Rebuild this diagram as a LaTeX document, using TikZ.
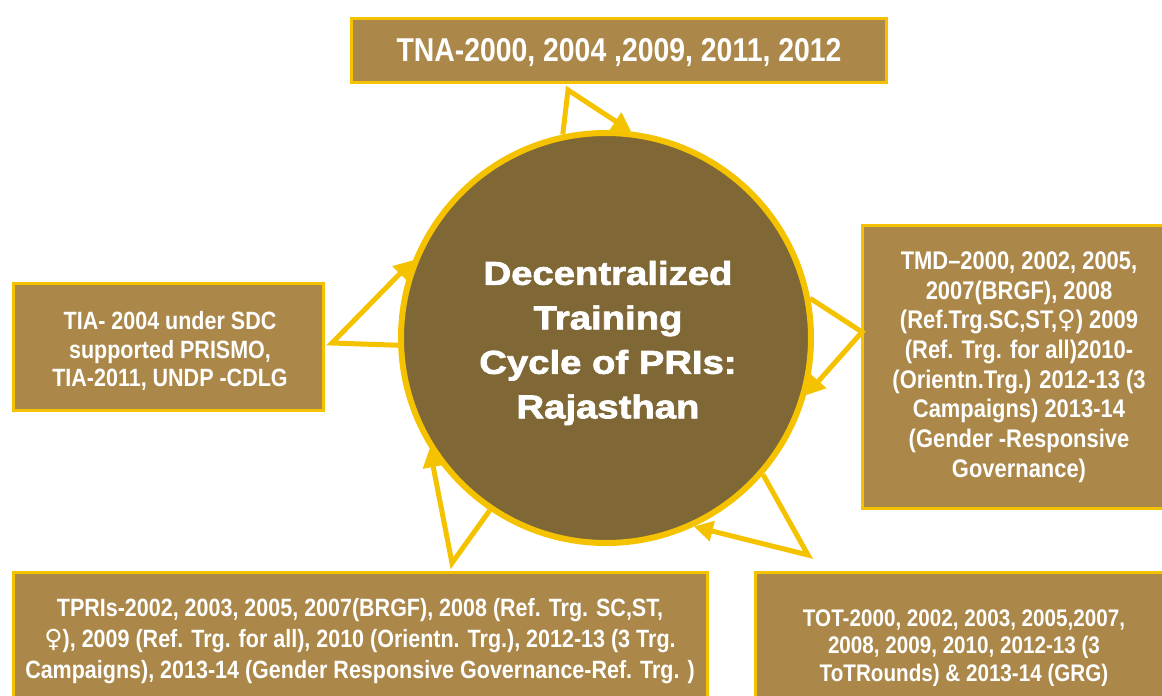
\documentclass[tikz,border=0pt]{standalone}
\usepackage{fontspec}
\usetikzlibrary{arrows.meta}
\newfontfamily\boxfont[FakeStretch=0.86]{Liberation Sans}
\newfontfamily\hubfont[FakeStretch=1.16,FakeBold=2.2]{Liberation Sans}
\newfontfamily\symfont{DejaVu Sans}
\newcommand{\fem}{{\symfont\mdseries ♀}}
\definecolor{boxfill}{HTML}{AB8849}
\definecolor{hubfill}{HTML}{7F6736}
\definecolor{rim}{HTML}{F5C200}

\begin{document}
\begin{tikzpicture}[x=1pt,y=-1pt,
  infobox/.style={draw=rim, line width=3pt, fill=boxfill, inner sep=0pt},
  boxtext/.style={text=white, align=center, inner sep=0pt},
  hub/.style={circle, draw=rim, line width=6pt, fill=hubfill,
              minimum size=410pt, inner sep=0pt},
  loop/.style={draw=rim, line width=5pt, line join=miter,
               -{Triangle[length=19pt,width=20pt]}}
]
\useasboundingbox (0,0) rectangle (1162,696);
\fill[white] (0,0) rectangle (1162,696);

% outer boxes
\node[infobox, minimum width=535pt, minimum height=64pt] (tna) at (619,50) {};
\node[infobox, minimum width=310pt, minimum height=127pt] (tia) at (168,346.5) {};
\node[infobox, minimum width=314pt, minimum height=283pt] (tmd) at (1019,366.5) {};
\node[infobox, minimum width=694pt, minimum height=134pt] (tpri) at (360,639) {};
\node[infobox, minimum width=418pt, minimum height=134pt] (tot) at (964,639) {};

% box texts
\node[boxtext, anchor=base, font=\boxfont\bfseries\fontsize{33}{36}\selectfont]
  (tnaT) at (619,61) {TNA-2000, 2004 ,2009, 2011, 2012};
\node[boxtext, font=\boxfont\bfseries\fontsize{25}{28.5}\selectfont]
  (tiaT) at (170,351) {TIA- 2004 under SDC\\ supported PRISMO,\\ TIA-2011, UNDP -CDLG};
\node[boxtext, font=\boxfont\bfseries\fontsize{25.5}{29.7}\selectfont]
  (tmdT) at (1019,367) {TMD–2000, 2002, 2005,\\ 2007(BRGF), 2008\\ (Ref.Trg.SC,ST,\fem) 2009\\
  (Ref. Trg. for all)2010-\\ (Orientn.Trg.) 2012-13 (3\\ Campaigns) 2013-14\\
  (Gender -Responsive\\ Governance)};
\node[boxtext, font=\boxfont\bfseries\fontsize{25}{31}\selectfont]
  (tpriT) at (360,641) {TPRIs-2002, 2003, 2005, 2007(BRGF), 2008 (Ref. Trg. SC,ST,\\
  \fem), 2009 (Ref. Trg. for all), 2010 (Orientn. Trg.), 2012-13 (3 Trg.\\
  Campaigns), 2013-14 (Gender Responsive Governance-Ref. Trg. )};
\node[boxtext, font=\boxfont\bfseries\fontsize{24}{27.5}\selectfont]
  (totT) at (964,648) {TOT-2000, 2002, 2003, 2005,2007,\\ 2008, 2009, 2010, 2012-13 (3\\
  ToTRounds) \& 2013-14 (GRG)};

% central circle and its title
\node[hub] (hub) at (606,338) {};
\node[boxtext, font=\hubfont\bfseries\fontsize{33}{44.5}\selectfont] (hubT) at (608,343)
  {Decentralized\\ Training\\ Cycle of PRIs:\\ Rajasthan};

% turning points of the cycle arrows
\coordinate (tnaK) at (568,90);
\coordinate (tmdK) at (862,332);
\coordinate (totK) at (808,555);
\coordinate (tpriK) at (452,563);
\coordinate (tiaK) at (332,343);

\draw[loop] (hub.102) -- (tnaK) -- (hub.83.5);
\draw[loop] (hub.11) -- (tmdK) -- (hub.-16.5);
\draw[loop] (hub.-41) -- (totK) -- (hub.-65.5);
\draw[loop] (hub.-124) -- (tpriK) -- (hub.212.5);
\draw[loop] (hub.182.7) -- (tiaK) -- (hub.158.4);
\end{tikzpicture}
\end{document}
